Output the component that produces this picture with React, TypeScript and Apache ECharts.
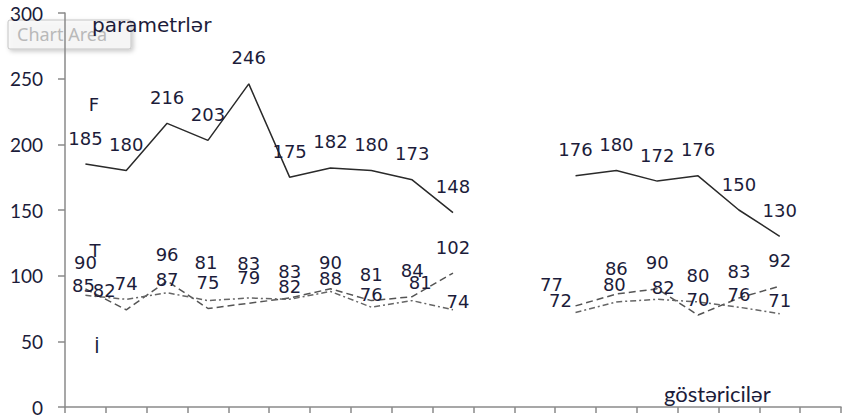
import React, { useEffect, useRef } from "react";
import * as echarts from "echarts";

// 19 category slots along the horizontal axis (no tick labels are shown)
const categories = [
  "1", "2", "3", "4", "5", "6", "7", "8", "9", "10",
  "11", "12", "13", "14", "15", "16", "17", "18", "19",
];

// F — solid line
const fValues = [185, 180, 216, 203, 246, 175, 182, 180, 173, 148, null, null, 176, 180, 172, 176, 150, 130, null];
// T — dashed line
const tValues = [90, 74, 96, 75, 79, 83, 90, 81, 84, 102, null, null, 77, 86, 90, 70, 83, 92, null];
// İ — dash-dot line
const iValues = [85, 82, 87, 81, 83, 82, 88, 76, 81, 74, null, null, 72, 80, 82, 80, 76, 71, null];

// value axis
const yMin = 0;
const yMax = 300;
const yStep = 50;

// label placement: default lift above the point, with a few hand-placed labels
const DEFAULT_LIFT: Record<string, number> = { F: 26, T: 26, "İ": 13 };
const LABEL_NUDGE: Record<string, [number, number]> = {
  "İ-0": [-2, 10],
  "İ-1": [-22, 9],
  "İ-3": [-2, 38],
  "İ-4": [0, 34],
  "İ-8": [8, 18],
  "İ-9": [5, 8],
  "T-12": [-24, 21],
  "İ-12": [-15, 12],
  "İ-13": [-2, 17],
  "İ-14": [6, 12],
  "T-15": [0, 16],
  "İ-15": [0, 26],
};

const LABEL_FONT = "DejaVu Sans";
const LABEL_COLOR = "#1c1c3a";

function buildData(name: string, values: (number | null)[]) {
  return values.map((v, k) => {
    if (v == null) return null;
    const nudge = LABEL_NUDGE[`${name}-${k}`] || [0, DEFAULT_LIFT[name]];
    return { value: v, label: { offset: [nudge[0], -nudge[1]] } };
  });
}

function lineSeries(name: string, values: (number | null)[], lineStyle: any) {
  return {
    name,
    type: "line",
    data: buildData(name, values),
    symbol: "circle",
    symbolSize: 2,
    showSymbol: true,
    showAllSymbol: true,
    connectNulls: false,
    silent: true,
    itemStyle: { color: "rgba(0,0,0,0)" },
    lineStyle,
    label: {
      show: true,
      position: "inside",
      formatter: "{c}",
      fontFamily: LABEL_FONT,
      fontSize: 18,
      color: LABEL_COLOR,
    },
    emphasis: { disabled: true },
    z: 3,
  };
}

export default function App() {
  const ref = useRef<HTMLDivElement>(null);

  useEffect(() => {
    if (!ref.current) return;
    const chart = echarts.init(ref.current, undefined, { renderer: "svg" });

    chart.setOption({
      animation: false,
      backgroundColor: "#ffffff",
      grid: { left: 65, right: 6, top: 13, bottom: 11, containLabel: false },
      xAxis: {
        type: "category",
        data: categories,
        boundaryGap: true,
        axisLine: { show: true, lineStyle: { color: "#8a8a8a", width: 1.5 } },
        axisTick: { show: true, length: 6, interval: 0, alignWithLabel: false, lineStyle: { color: "#8a8a8a", width: 1.5 } },
        axisLabel: { show: false },
        splitLine: { show: false },
      },
      yAxis: {
        type: "value",
        min: yMin,
        max: yMax,
        interval: yStep,
        axisLine: { show: true, lineStyle: { color: "#8a8a8a", width: 1.5 } },
        axisTick: { show: true, length: 7, lineStyle: { color: "#8a8a8a", width: 1.5 } },
        axisLabel: {
          show: true,
          margin: 22,
          fontFamily: "Lato",
          fontSize: 19,
          color: "#1c1c3a",
        },
        splitLine: { show: false },
      },
      graphic: [
        {
          type: "group",
          z: -1,
          children: [
            {
              type: "rect",
              shape: { x: 8, y: 20, width: 123, height: 29, r: 2 },
              style: {
                fill: "rgba(250,250,250,0.75)",
                stroke: "#c4c4c4",
                lineWidth: 1,
                shadowBlur: 4,
                shadowOffsetX: 2,
                shadowOffsetY: 2,
                shadowColor: "rgba(0,0,0,0.25)",
              },
            },
            {
              type: "text",
              style: {
                text: "Chart Area",
                x: 17,
                y: 34,
                fill: "#b9b9b9",
                font: '18px "Noto Sans"',
                verticalAlign: "middle",
              },
            },
          ],
        },
        {
          type: "text",
          z: 5,
          style: {
            text: "parametrlər",
            x: 92,
            y: 25,
            fill: LABEL_COLOR,
            font: '20px "DejaVu Sans"',
            verticalAlign: "middle",
          },
        },
        {
          type: "text",
          z: 5,
          style: { text: "F", x: 94, y: 104, fill: LABEL_COLOR, font: '18px "DejaVu Sans"', align: "center", verticalAlign: "middle" },
        },
        {
          type: "text",
          z: 5,
          style: { text: "T", x: 95, y: 250, fill: LABEL_COLOR, font: '18px "DejaVu Sans"', align: "center", verticalAlign: "middle" },
        },
        {
          type: "text",
          z: 5,
          style: { text: "İ", x: 97, y: 346, fill: LABEL_COLOR, font: '18px "DejaVu Sans"', align: "center", verticalAlign: "middle" },
        },
        {
          type: "text",
          z: 5,
          style: {
            text: "göstəricilər",
            x: 664,
            y: 393,
            fill: "#1c1c3a",
            font: '22px "Lato"',
            verticalAlign: "middle",
          },
        },
      ],
      series: [
        lineSeries("F", fValues, { color: "#2a2a2a", width: 1.5, type: "solid" }),
        lineSeries("T", tValues, { color: "#555555", width: 1.5, type: [7, 4] }),
        lineSeries("İ", iValues, { color: "#666666", width: 1.5, type: [6, 3, 2, 3] }),
      ],
    });

    return () => chart.dispose();
  }, []);

  return (
    <div
      ref={ref}
      style={{ position: "fixed", left: 0, top: 0, width: 847, height: 418 }}
    />
  );
}
